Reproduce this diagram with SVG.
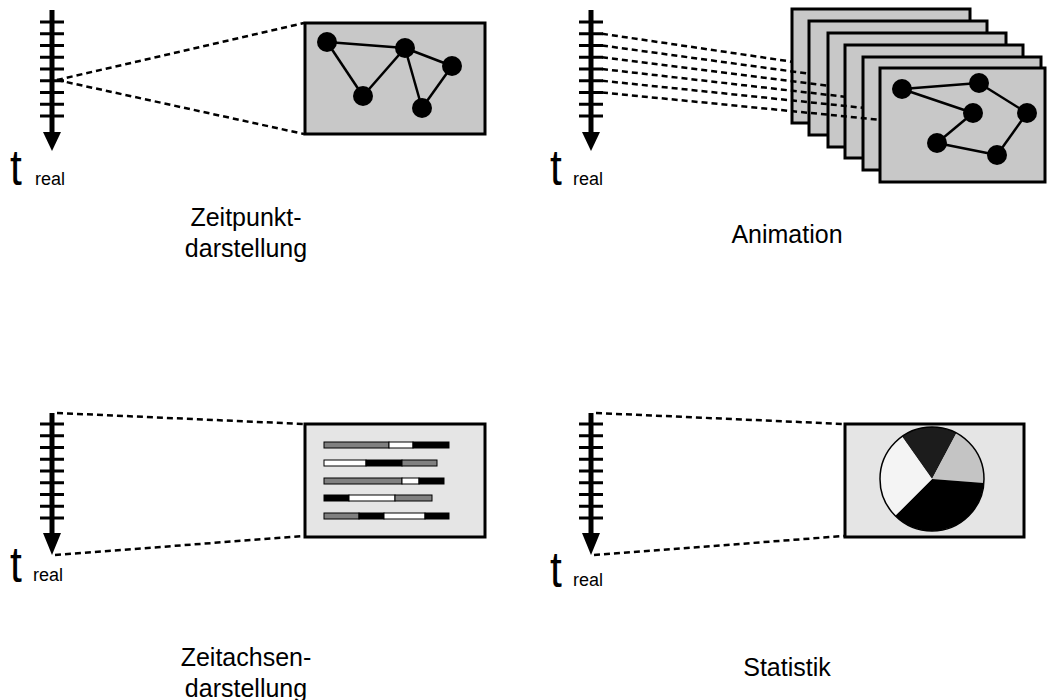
<svg xmlns="http://www.w3.org/2000/svg" width="1048" height="700" viewBox="0 0 1048 700">
<defs>
<style>
.axis{stroke:#000;stroke-width:5;fill:none}
.tick{stroke:#000;stroke-width:3}
.head{fill:#000}
.dash{stroke:#000;stroke-width:2.5;stroke-dasharray:6 4;fill:none}
.frame{fill:#c8c8c8;stroke:#000;stroke-width:3}
.frame2{fill:#e5e5e5;stroke:#000;stroke-width:3}
.edge{stroke:#000;stroke-width:2.5}
.node{fill:#000}
.seg{stroke:#000;stroke-width:1}
.g{fill:#808080}.w{fill:#fff}.b{fill:#000}
.t{font-family:"Liberation Sans",Arial,sans-serif;font-size:50px;fill:#000}
.sub{font-family:"Liberation Sans",Arial,sans-serif;font-size:18px;fill:#000}
.lbl{font-family:"Liberation Sans",Arial,sans-serif;font-size:25px;fill:#000;text-anchor:middle}
</style>
<g id="ticks">
<path class="tick" d="M-12 0H12M-12 11.75H12M-12 23.5H12M-12 35.25H12M-12 47H12M-12 58.75H12M-12 70.5H12M-12 82.25H12M-12 94H12"/>
</g>
</defs>

<!-- Panel 1: Zeitpunktdarstellung -->
<g id="axis1">
<line class="axis" x1="52" y1="10" x2="52" y2="134"/>
<use href="#ticks" x="52" y="22"/>
<polygon class="head" points="43,132 61,132 52,151"/>
<text class="t" transform="translate(10 185) scale(0.85 1)">t</text>
<text class="sub" x="35" y="185">real</text>
</g>
<g id="view1">
<rect class="frame" x="305" y="23" width="180" height="111"/>
<g class="edge">
<line x1="327" y1="42" x2="405" y2="48"/>
<line x1="327" y1="42" x2="363" y2="96"/>
<line x1="363" y1="96" x2="405" y2="48"/>
<line x1="405" y1="48" x2="452" y2="66"/>
<line x1="405" y1="48" x2="422" y2="108"/>
<line x1="422" y1="108" x2="452" y2="66"/>
</g>
<g class="node">
<circle cx="327" cy="42" r="10"/>
<circle cx="405" cy="48" r="10"/>
<circle cx="452" cy="66" r="10"/>
<circle cx="363" cy="96" r="10"/>
<circle cx="422" cy="108" r="10"/>
</g>
</g>
<text id="label1" class="lbl"><tspan x="246" y="226">Zeitpunkt-</tspan><tspan x="246" y="257">darstellung</tspan></text>

<!-- Panel 2: Animation -->
<g id="axis2">
<line class="axis" x1="591" y1="10" x2="591" y2="134"/>
<use href="#ticks" x="591" y="22"/>
<polygon class="head" points="582,132 600,132 591,151"/>
<text class="t" transform="translate(550 185) scale(0.85 1)">t</text>
<text class="sub" x="573" y="185">real</text>
</g>
<g id="view2">
<line class="dash" x1="602" y1="33.75" x2="794" y2="62"/>
<rect class="frame" x="792" y="9" width="178" height="114"/>
<line class="dash" x1="602" y1="45.5" x2="811" y2="74"/>
<rect class="frame" x="809" y="21" width="178" height="114"/>
<line class="dash" x1="602" y1="57.25" x2="830" y2="86"/>
<rect class="frame" x="828" y="33" width="178" height="114"/>
<line class="dash" x1="602" y1="69" x2="847" y2="97"/>
<rect class="frame" x="845" y="45" width="178" height="113"/>
<line class="dash" x1="602" y1="80.75" x2="865" y2="108"/>
<rect class="frame" x="863" y="57" width="178" height="113"/>
<line class="dash" x1="602" y1="92.5" x2="882" y2="120"/>
<rect class="frame" x="880" y="68" width="165" height="114"/>
<g class="edge">
<line x1="902" y1="89" x2="979" y2="83"/>
<line x1="902" y1="89" x2="973" y2="113"/>
<line x1="973" y1="113" x2="937" y2="143"/>
<line x1="937" y1="143" x2="997" y2="155"/>
<line x1="997" y1="155" x2="1027" y2="113"/>
<line x1="1027" y1="113" x2="979" y2="83"/>
</g>
<g class="node">
<circle cx="902" cy="89" r="10"/>
<circle cx="979" cy="83" r="10"/>
<circle cx="973" cy="113" r="10"/>
<circle cx="1027" cy="113" r="10"/>
<circle cx="937" cy="143" r="10"/>
<circle cx="997" cy="155" r="10"/>
</g>
</g>
<text id="label2" class="lbl" x="787" y="243">Animation</text>

<!-- Panel 3: Zeitachsendarstellung -->
<g id="axis3">
<line class="axis" x1="52" y1="413" x2="52" y2="537"/>
<use href="#ticks" x="52" y="424"/>
<polygon class="head" points="43,533 61,533 52,555"/>
<text class="t" transform="translate(10 582) scale(0.85 1)">t</text>
<text class="sub" x="33" y="581">real</text>
</g>
<g id="view3">
<rect class="frame2" x="305" y="424" width="180" height="113"/>
<g class="seg">
<rect class="g" x="324" y="442" width="65" height="6"/>
<rect class="w" x="389" y="442" width="24" height="6"/>
<rect class="b" x="413" y="442" width="36" height="6"/>
<rect class="w" x="324" y="460" width="42" height="6"/>
<rect class="b" x="366" y="460" width="36" height="6"/>
<rect class="g" x="402" y="460" width="35" height="6"/>
<rect class="g" x="324" y="478" width="78" height="6"/>
<rect class="w" x="402" y="478" width="17" height="6"/>
<rect class="b" x="419" y="478" width="25" height="6"/>
<rect class="b" x="324" y="495" width="25" height="6"/>
<rect class="w" x="349" y="495" width="46" height="6"/>
<rect class="g" x="395" y="495" width="37" height="6"/>
<rect class="g" x="324" y="513" width="35" height="6"/>
<rect class="b" x="359" y="513" width="25" height="6"/>
<rect class="w" x="384" y="513" width="41" height="6"/>
<rect class="b" x="425" y="513" width="24" height="6"/>
</g>
</g>
<text id="label3" class="lbl"><tspan x="246" y="666">Zeitachsen-</tspan><tspan x="246" y="697">darstellung</tspan></text>

<!-- Panel 4: Statistik -->
<g id="axis4">
<line class="axis" x1="591" y1="413" x2="591" y2="537"/>
<use href="#ticks" x="591" y="424"/>
<polygon class="head" points="582,533 600,533 591,555"/>
<text class="t" transform="translate(550 587) scale(0.85 1)">t</text>
<text class="sub" x="573" y="586">real</text>
</g>
<g id="view4">
<rect class="frame2" x="845" y="424" width="179" height="113"/>
<path fill="#1c1c1c" d="M932 479L902 436.5A52 52 0 0 1 956.5 433.1Z"/>
<path fill="#c4c4c4" d="M932 479L956.5 433.1A52 52 0 0 1 983.8 483.1Z"/>
<path fill="#000" d="M932 479L983.8 483.1A52 52 0 0 1 895.2 515.8Z"/>
<path fill="#f4f4f4" d="M932 479L895.2 515.8A52 52 0 0 1 902 436.5Z"/>
<circle cx="932" cy="479" r="52" fill="none" stroke="#000" stroke-width="1.5"/>
</g>
<text id="label4" class="lbl" x="787" y="676">Statistik</text>

<!-- Connectors -->
<g id="connectors">
<line class="dash" x1="57" y1="80" x2="304" y2="23"/>
<line class="dash" x1="57" y1="80" x2="304" y2="134"/>
<line class="dash" x1="57" y1="413" x2="304" y2="424"/>
<line class="dash" x1="55" y1="555" x2="304" y2="536"/>
<line class="dash" x1="596" y1="413" x2="844" y2="424"/>
<line class="dash" x1="594" y1="555" x2="844" y2="536"/>
</g>
</svg>
